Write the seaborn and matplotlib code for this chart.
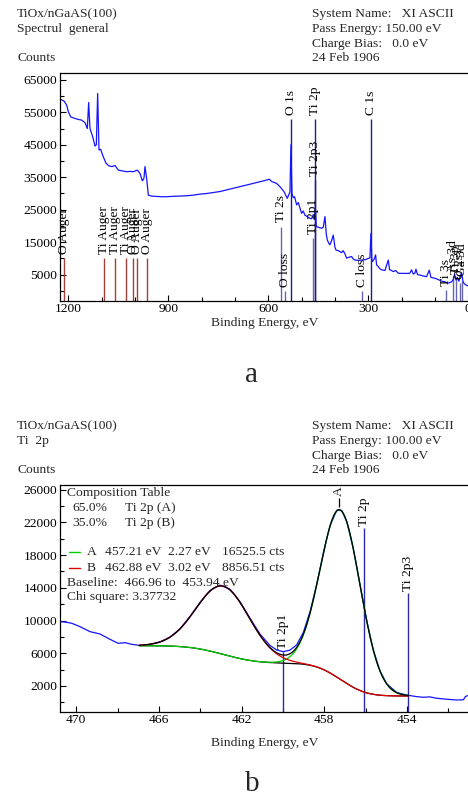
import numpy as np
import matplotlib
matplotlib.use("Agg")
import matplotlib.pyplot as plt
from matplotlib.ticker import FixedLocator, MultipleLocator, StrMethodFormatter
import seaborn as sns

# ---------------- survey spectrum (panel a) ----------------
survey_ev = [1225, 1213, 1205, 1200, 1193, 1180, 1170, 1160, 1150, 1143, 1139, 1135,
             1127, 1120, 1116, 1112, 1108, 1103, 1097, 1087, 1078, 1070, 1060, 1050,
             1040, 1025, 1015, 1005, 993, 985, 978, 973, 970, 965, 960, 950, 935, 920,
             905, 890, 865, 845, 825, 805, 785, 765, 745, 725, 705, 685, 665, 645, 625,
             610, 597, 590, 575, 565, 553, 543, 535, 532, 529, 525, 521, 515, 510, 505,
             500, 495, 490, 483, 476, 470, 465, 462, 459, 456, 452, 447, 440, 435, 430,
             426, 423, 418, 415, 410, 405, 400, 397, 390, 385, 380, 375, 370, 365, 360,
             350, 345, 340, 330, 320, 310, 300, 295, 292, 289, 286, 282, 278, 275, 270,
             265, 260, 250, 240, 236, 232, 225, 218, 210, 200, 190, 180, 175, 170, 165,
             160, 157, 152, 145, 135, 125, 117, 112, 100, 90, 80, 70, 60, 50, 45, 41, 37,
             33, 28, 24, 20, 16, 12, 8, 4, 0, -5]
survey_counts = [59000, 58500, 57200, 55200, 53600, 53100, 52800, 52600, 51800, 50000, 58000, 50000,
                 47500, 44600, 45000, 60800, 43400, 43600, 41800, 39300, 38500, 38300, 38600, 37200,
                 37000, 36700, 36800, 36700, 37200, 36200, 33900, 34700, 38300, 34700, 29500, 29200, 29100, 29000,
                 29000, 29100, 29200, 29300, 29500, 29800, 30000, 30300, 30600, 31100, 31600, 32100, 32600, 33100, 33600,
                 34000, 34400, 33700, 33100, 32100, 30600, 28500, 30500, 45000, 30000, 28700, 29000, 26500, 27200, 25500,
                 23900, 24600, 23300, 22900, 22400, 22200, 23500, 22000, 26000, 19800, 19700, 19500, 19300, 19600, 22900,
                 17500, 15700, 14600, 14200, 15500, 17200, 13500, 12600, 12400, 12100, 11800, 12400, 11400, 10100, 10300,
                 10600, 9800, 9500, 9400, 9500, 9600, 10000, 10200, 17700, 9000, 9300, 9800, 11100, 8000, 7500,
                 6800, 6500, 6300, 9500, 6500, 6400, 5950, 6300, 5450, 5400, 5400, 5400, 5500, 6500, 5200,
                 5500, 6700, 5000, 4900, 4600, 4400, 6400, 4200, 3900, 3500, 3000, 2800, 2400, 2800, 3500, 5200, 3400,
                 4200, 3000, 4500, 5600, 3000, 2200, 1900, 1700, 1500, 1400]

# element markers on the survey
core_names = ["O 1s", "Ti 2p", "Ti 2p3", "C 1s"]
core_ev = [532, 461, 458.5, 291]
core_height = [52800, 52800, 34200, 52800]

weak_names = ["Ti 2p1", "Ti 2s", "O loss", "C loss", "Ti 3s", "As 3d", "Ti 3p", "O 2s", "Ga 3d"]
weak_ev = [464.5, 562, 550, 320, 66, 45, 36, 24, 18]
weak_height = [16300, 19800, 0, 0, 300, 4500, 4000, 2500, 3200]

auger_names = ["O Auger", "Ti Auger", "Ti Auger", "Ti Auger", "O Auger", "O Auger", "O Auger"]
auger_ev = [1212, 1093, 1060, 1028, 1007, 993, 964]
auger_height = [10000, 10000, 10000, 10000, 10000, 10000, 10000]

# ---------------- Ti 2p region (panel b) ----------------
ti_ev = [470.79, 470.5, 470.22, 469.82, 469.34, 468.85, 468.37, 467.97, 467.64, 467.32,
         466.92, 466.44, 465.95, 465.47, 464.98, 464.5, 464.02, 463.53, 463.05, 462.56,
         462.08, 461.6, 461.11, 460.63, 460.31, 459.99, 459.66, 459.34, 459.02, 458.69,
         458.37, 458.05, 457.73, 457.4, 457.16, 456.92, 456.6, 456.27, 455.95, 455.63,
         455.31, 454.98, 454.5, 454.02, 453.53, 453.21, 452.9, 452.56, 452.08, 451.6,
         451.27, 451.18, 451.0]
ti_counts = [9860, 9800, 9660, 9250, 8640, 8350, 7700, 7210, 7290, 7090,
             6950, 7100, 7390, 7980, 8980, 10500, 12200, 13680, 14330, 13820,
             12300, 10300, 8330, 6950, 6400, 6190, 6380, 7020, 8520, 11100,
             14420, 18250, 21580, 23500, 23450, 22150, 18800, 14300, 9980, 6400,
             3850, 2260, 1200, 880, 690, 610, 660, 490, 370, 280,
             300, 690, 890]

comp_names = ["A", "B"]
comp_center = [457.21, 462.88]
comp_fwhm = [2.27, 3.02]
comp_area = [16525.5, 8856.51]
comp_pct = [65.0, 35.0]
baseline_ev = [466.96, 453.94]
baseline_counts = [6920, 770]
chi_square = 3.37732

ti_marker_names = ["Ti 2p1", "Ti 2p", "Ti 2p3"]
ti_marker_ev = [460.0, 456.1, 453.97]
ti_marker_height = [6190, 21280, 13330]

# ---------------- styling ----------------
sns.set_style("ticks")
FONT = ["Liberation Serif", "DejaVu Serif"]
plt.rcParams["font.family"] = FONT
plt.rcParams["axes.linewidth"] = 0.9
FS = 9.7
W, H = 468, 797

fig = plt.figure(figsize=(W / 100, H / 100), dpi=100)


def ftext(x, y, s, **kw):
    kw.setdefault("fontsize", FS)
    kw.setdefault("ha", "left")
    kw.setdefault("va", "center")
    fig.text(x / W, 1 - y / H, s, **kw)


def style_axes(ax):
    ax.spines["right"].set_visible(False)
    for s in ("top", "left", "bottom"):
        ax.spines[s].set_color("black")
    ax.tick_params(which="both", direction="in", top=False, right=False,
                   labelsize=FS, width=0.8, colors="black")
    ax.tick_params(which="major", length=4.5)
    ax.tick_params(which="minor", length=3)
    ax.tick_params(axis="y", pad=2)
    ax.tick_params(axis="x", pad=1.5)
    ax.set_xlabel("")
    ax.set_ylabel("")


def marker(ax, ev, top, ybot, label, color, lw=1.0, off=3):
    ax.vlines(ev, ybot, top, colors=color, lw=lw, zorder=1)
    ax.annotate(label, xy=(ev, top), xytext=(0, off), textcoords="offset points",
                rotation=90, ha="center", va="bottom", fontsize=FS, color="black",
                annotation_clip=False)


# ---------- panel a ----------
ax1 = fig.add_axes([60 / W, 1 - 301 / H, 410 / W, 228 / H])
y1_lo, y1_hi = -3100, 67100
for name, ev, h in zip(auger_names, auger_ev, auger_height):
    marker(ax1, ev, h, y1_lo, name, "#a2403c")
for name, ev, h in zip(weak_names, weak_ev, weak_height):
    marker(ax1, ev, h, y1_lo, name, "#6767b0")
for name, ev, h in zip(core_names, core_ev, core_height):
    marker(ax1, ev, h, y1_lo, name, "#1c1c8e")
sns.lineplot(x=survey_ev, y=survey_counts, ax=ax1, color="#1414ff", lw=0.9,
             sort=False, estimator=None, zorder=2)
ax1.set_xlim(1225, -5.25)
ax1.set_ylim(y1_lo, y1_hi)
style_axes(ax1)
ax1.xaxis.set_major_locator(FixedLocator([1200, 900, 600, 300, 0]))
ax1.xaxis.set_minor_locator(MultipleLocator(100))
ax1.yaxis.set_major_locator(FixedLocator(list(range(5000, 70000, 10000))))
ax1.yaxis.set_minor_locator(MultipleLocator(5000))
ax1.xaxis.set_major_formatter(StrMethodFormatter("{x:.0f}"))
ax1.yaxis.set_major_formatter(StrMethodFormatter("{x:.0f}"))

ftext(17, 14, "TiOx/nGaAS(100)")
ftext(17, 29, "Spectrul  general")
ftext(17, 58, "Counts")
ftext(312, 14, "System Name:   XI ASCII")
ftext(312, 29, "Pass Energy: 150.00 eV")
ftext(312, 44, "Charge Bias:   0.0 eV")
ftext(312, 58, "24 Feb 1906")
ftext(265, 323, "Binding Energy, eV", ha="center")
ftext(252, 375, "a", ha="center", fontsize=21)

# ---------- panel b ----------
ax2 = fig.add_axes([60 / W, 1 - 712 / H, 411.5 / W, 227 / H])
y2_lo, y2_hi = -1190, 26580

sns.lineplot(x=ti_ev, y=ti_counts, ax=ax2, color="#1414ff", lw=0.9,
             sort=False, estimator=None, zorder=2)

# fitted components (Gaussian line shapes) on a Shirley background
AREA_SCALE = 3.03
grid = np.linspace(baseline_ev[0], baseline_ev[1], 400)
peaks = []
for c, w, a in zip(comp_center, comp_fwhm, comp_area):
    height = a * AREA_SCALE / (w * 1.0645)
    peaks.append(height * np.exp(-4 * np.log(2) * ((grid - c) / w) ** 2))
total = peaks[0] + peaks[1]
# cumulative area measured from the low binding energy end
rev = total[::-1]
cum = np.concatenate([[0], np.cumsum(0.5 * (rev[1:] + rev[:-1]) * np.abs(np.diff(grid[::-1])))])
cum = cum[::-1]
shirley = baseline_counts[1] + (baseline_counts[0] - baseline_counts[1]) * cum / cum[0]

ax2.plot(grid, shirley, color="black", lw=0.9, zorder=3)
ax2.plot(grid, shirley + peaks[0], color="#00d000", lw=0.9, zorder=4)
ax2.plot(grid, shirley + peaks[1], color="#e00000", lw=0.9, zorder=5)
ax2.plot(grid, shirley + total, color="black", lw=0.9, zorder=6)

for name, ev, h in zip(ti_marker_names, ti_marker_ev, ti_marker_height):
    marker(ax2, ev, h, y2_lo, name, "#2b2ba6", lw=1.0, off=2)
# component A tag above its maximum
ax2.vlines(457.3, 23900, 25000, colors="black", lw=0.9, zorder=7)
ax2.annotate("A", xy=(457.3, 25000), xytext=(0, 1.5), textcoords="offset points",
             rotation=90, ha="center", va="bottom", fontsize=FS)

ax2.set_xlim(470.79, 450.88)
ax2.set_ylim(y2_lo, y2_hi)
style_axes(ax2)
ax2.xaxis.set_major_locator(FixedLocator([470, 466, 462, 458, 454]))
ax2.xaxis.set_minor_locator(MultipleLocator(2))
ax2.yaxis.set_major_locator(FixedLocator(list(range(2000, 27000, 4000))))
ax2.yaxis.set_minor_locator(MultipleLocator(2000))
ax2.xaxis.set_major_formatter(StrMethodFormatter("{x:.0f}"))
ax2.yaxis.set_major_formatter(StrMethodFormatter("{x:.0f}"))

ftext(17, 426, "TiOx/nGaAS(100)")
ftext(17, 441, "Ti  2p")
ftext(17, 470, "Counts")
ftext(312, 426, "System Name:   XI ASCII")
ftext(312, 441, "Pass Energy: 100.00 eV")
ftext(312, 456, "Charge Bias:   0.0 eV")
ftext(312, 470, "24 Feb 1906")

# composition table and fit summary
ftext(67, 493, "Composition Table")
for i, (pct, nm) in enumerate(zip(comp_pct, comp_names)):
    ftext(72, 508 + 15 * i, f"{pct:.1f}%")
    ftext(125, 508 + 15 * i, f"Ti 2p ({nm})")
for i, (nm, c, w, a, col) in enumerate(zip(comp_names, comp_center, comp_fwhm, comp_area,
                                            ["#00d000", "#e00000"])):
    y = 552 + 16 * i
    fig.add_artist(plt.Line2D([69 / W, 80 / W], [1 - y / H, 1 - y / H], color=col, lw=1.0))
    ftext(87, y, nm)
    ftext(105, y, f"{c:.2f} eV")
    ftext(168, y, f"{w:.2f} eV")
    ftext(222, y, f"{a:g} cts")
ftext(67, 583, f"Baseline:  {baseline_ev[0]:.2f} to  {baseline_ev[1]:.2f} eV")
ftext(67, 597, f"Chi square: {chi_square}")

ftext(265, 743, "Binding Energy, eV", ha="center")
ftext(252, 784, "b", ha="center", fontsize=21)

fig.savefig("out.png", dpi=100)
